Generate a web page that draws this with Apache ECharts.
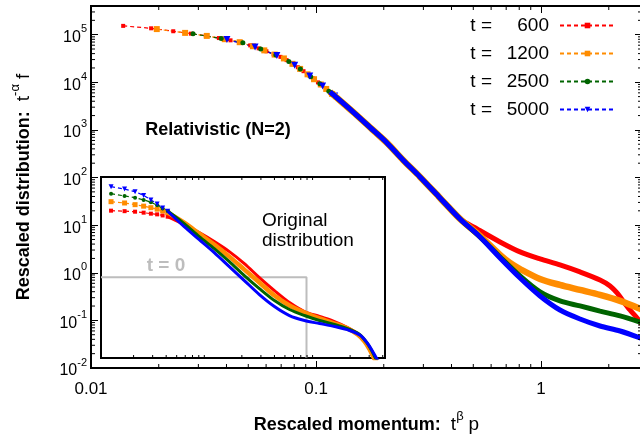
<!DOCTYPE html>
<html><head><meta charset="utf-8">
<script src="https://cdn.jsdelivr.net/npm/echarts@6/dist/echarts.min.js"></script>
<style>html,body{margin:0;padding:0;background:#fff}#c{width:640px;height:441px}</style>
</head><body><div id="c"></div>
<script>
// ---------- data ----------
const seriesNames = ['600', '1200', '2500', '5000'];
const xTickValues = [0.01, 0.1, 1];
const xTickLabels = ['0.01', '0.1', '1'];
const yTickExponents = [-2, -1, 0, 1, 2, 3, 4, 5];

// main plot: sparse (dashed + markers) part
const mainRed = [[0.0139,153000],[0.0185,136000],[0.0232,118000],[0.0278,105000],[0.0324,94800],[0.037,84900],[0.0417,76000],[0.0463,68800],[0.051,59600],[0.0556,51600],[0.0602,44800],[0.0648,38900],[0.0695,34200],[0.074,29200],[0.079,23900],[0.083,20700],[0.088,17100],[0.093,14000],[0.097,12000],[0.102,9960],[0.106,8700],[0.111,7250],[0.116,6100]];
const mainOrange = [[0.0196,131000],[0.0262,109000],[0.0327,94200],[0.0393,80400],[0.0458,69500],[0.0524,57100],[0.0589,46800],[0.0655,38200],[0.072,31700],[0.0786,24400],[0.085,19100],[0.0917,14700],[0.098,11600],[0.105,9000],[0.111,7250],[0.118,5680]];
const mainGreen = [[0.0284,104000],[0.0379,83000],[0.0473,67500],[0.0568,49900],[0.0663,37200],[0.0757,27200],[0.0852,19000],[0.0947,13100],[0.104,9300],[0.114,6500]];
const mainBlue = [[0.0402,78700],[0.0536,55000],[0.067,36500],[0.0804,22800],[0.0938,13500],[0.107,8400],[0.121,5140]];
// main plot: dense collapsed part (shared) and tails
const mainCollapse = [[0.1154,6280],[0.124,4700],[0.146,2390],[0.1738,1130],[0.2068,533],[0.2436,234],[0.29,103],[0.3557,37.3],[0.4365,13.5]];
const tailRed = [[0.5195,8.32],[0.6574,4.44],[0.8067,2.74],[0.9899,1.95],[1.214,1.46],[1.49,1.04],[1.829,0.706],[2.026,0.529],[2.177,0.377],[2.314,0.256],[2.486,0.165],[2.672,0.112],[2.84,0.0762]];
const tailOrange = [[0.5357,5.93],[0.6574,2.37],[0.7282,1.61],[0.8067,1.2],[0.9899,0.741],[1.214,0.555],[1.49,0.436],[1.829,0.342],[2.245,0.256],[2.84,0.165]];
const tailGreen = [[0.5357,5.65],[0.6574,2.15],[0.8067,0.857],[0.9899,0.396],[1.214,0.256],[1.49,0.201],[1.829,0.157],[2.245,0.124],[2.84,0.0881]];
const tailBlue = [[0.5357,5.65],[0.6574,2.05],[0.8067,0.778],[0.9899,0.326],[1.214,0.165],[1.49,0.107],[1.829,0.0762],[2.245,0.0598],[2.84,0.0406]];

// inset: original distribution
const insetRed = [[0.01238,1360],[0.01651,1290],[0.02064,1220],[0.02477,1100],[0.0289,989],[0.033,918],[0.0371,817],[0.0413,719]];
const insetOrange = [[0.01238,3540],[0.01651,3080],[0.02064,2580],[0.02477,2200],[0.0289,1870],[0.033,1600],[0.0371,1330],[0.0413,1100]];
const insetGreen = [[0.01238,8300],[0.01651,6500],[0.02064,5420],[0.02477,4290],[0.0289,3360],[0.033,2440],[0.0371,1720],[0.0413,1320]];
const insetBlue = [[0.01238,17500],[0.01651,13500],[0.02064,10300],[0.02477,6920],[0.0289,4250],[0.033,2770],[0.0371,1830],[0.0413,1280]];
const insetRedDense = [[0.0413,719],[0.0587,308],[0.0808,131],[0.1112,50.5],[0.1532,17.4],[0.2109,4.86],[0.2904,1.1],[0.3999,0.275],[0.5504,0.0769],[0.7577,0.0296],[1.0435,0.0174],[1.437,0.0102],[1.896,0.0054],[2.346,0.00285],[2.667,0.00151],[2.967,0.000644],[3.231,0.000247],[3.444,0.00013]];
const insetOrangeDense = [[0.0413,1100],[0.0587,380],[0.0808,118],[0.1112,36.6],[0.1532,10.2],[0.2109,2.57],[0.2904,0.646],[0.3999,0.162],[0.5504,0.056],[0.7577,0.0266],[1.0435,0.0141],[1.437,0.00826],[1.896,0.00485],[2.346,0.00256],[2.724,0.00122],[3.03,0.000521],[3.3,0.000222],[3.518,0.00013]];
const insetGreenDense = [[0.0413,1320],[0.0587,342],[0.0808,85.9],[0.1112,24.0],[0.1532,6.01],[0.2109,1.36],[0.2904,0.341],[0.3999,0.0953],[0.5504,0.0366],[0.7577,0.0193],[1.0435,0.01135],[1.437,0.00743],[1.979,0.00437],[2.448,0.00256],[2.842,0.0011],[3.162,0.000468],[3.444,0.0002],[3.672,0.00013]];
const insetBlueDense = [[0.0413,1280],[0.0587,248],[0.0808,62.4],[0.1112,15.7],[0.1532,3.53],[0.2109,0.798],[0.2904,0.18],[0.3999,0.0504],[0.5504,0.0193],[0.7577,0.01135],[1.0435,0.00826],[1.437,0.006],[1.979,0.00393],[2.5,0.00231],[2.904,0.000986],[3.231,0.000421],[3.518,0.0002],[3.75,0.00013]];
const initialT0 = [[0.01,1.15],[0.791,1.15],[0.791,0.00021]];

// minor tick values
const mainMinorX = [0.02,0.03,0.04,0.05,0.06,0.07,0.08,0.09,0.2,0.3,0.4,0.5,0.6,0.7,0.8,0.9,2];
const insetMinorX = [0.02,0.03,0.04,0.05,0.06,0.07,0.08,0.09,0.2,0.3,0.4,0.5,0.6,0.7,0.8,0.9,2,3,4];
const mainMinorY = [];
yTickExponents.forEach(e => { for (let m = 2; m <= 9; m++) { const v = m * Math.pow(10, e); if (v < 4e5) mainMinorY.push(v); } });

// ---------- chart ----------
const FONT = '"Liberation Sans", Arial, Helvetica, sans-serif';
const C = { r: '#ff0000', o: '#ff8c00', g: '#006400', b: '#0000ff' };
const MX = [0.01, 2.81], MY = [0.01, 4e5];
const IX = [0.01, 4.2], IY = [2.1e-4, 4.9e4];

function isPow10(v) { const l = Math.log10(v); return Math.abs(l - Math.round(l)) < 1e-6 ? Math.round(l) : null; }
function xLabel(v) { const e = isPow10(v); if (e === null) return ''; const i = xTickValues.findIndex(t => Math.abs(Math.log10(t) - e) < 1e-6); return i >= 0 ? xTickLabels[i] : ''; }
function yLabel(v) { const e = isPow10(v); if (e === null || yTickExponents.indexOf(e) < 0) return ''; return '{b|10}{s|' + e + '}'; }

function tickX(yLo, yHi, len) {
  return function (params, api) {
    const v = api.value(0);
    const b = api.coord([v, yLo]), t = api.coord([v, yHi]);
    return { type: 'group', children: [
      { type: 'line', shape: { x1: b[0], y1: b[1], x2: b[0], y2: b[1] - len }, style: { stroke: '#000', lineWidth: 1 } },
      { type: 'line', shape: { x1: t[0], y1: t[1], x2: t[0], y2: t[1] + len }, style: { stroke: '#000', lineWidth: 1 } }
    ] };
  };
}
function tickY(xLo, xHi, len) {
  return function (params, api) {
    const v = api.value(1);
    const l = api.coord([xLo, v]), r = api.coord([xHi, v]);
    return { type: 'group', children: [
      { type: 'line', shape: { x1: l[0], y1: l[1], x2: l[0] + len, y2: l[1] }, style: { stroke: '#000', lineWidth: 1 } },
      { type: 'line', shape: { x1: r[0], y1: r[1], x2: r[0] - len, y2: r[1] }, style: { stroke: '#000', lineWidth: 1 } }
    ] };
  };
}

function sparse(name, data, color, symbol, size, rot, gi) {
  return { type: 'line', name: name, xAxisIndex: gi * 2, yAxisIndex: gi * 2, data: data,
    symbol: symbol, symbolSize: size, symbolRotate: rot, showSymbol: true,
    lineStyle: { color: color, width: 1.2, type: [4, 3] }, itemStyle: { color: color },
    emphasis: { disabled: true }, animation: false, z: 3 };
}
function dense(name, data, color, width, gi) {
  return { type: 'line', name: name, xAxisIndex: gi * 2, yAxisIndex: gi * 2, data: data,
    showSymbol: false, symbol: 'none', smooth: 0.3, lineStyle: { color: color, width: width },
    emphasis: { disabled: true }, animation: false, z: 4 };
}

const supRich = {
  b: { fontFamily: FONT, fontSize: 16, lineHeight: 22, color: '#000', verticalAlign: 'bottom' },
  s: { fontFamily: FONT, fontSize: 11, lineHeight: 12, color: '#000', verticalAlign: 'top' }
};
const nameRich = {
  b: { fontFamily: FONT, fontSize: 18, fontWeight: 'bold', lineHeight: 24, color: '#000', verticalAlign: 'bottom' },
  n: { fontFamily: FONT, fontSize: 19, lineHeight: 24, color: '#000', verticalAlign: 'bottom' },
  s: { fontFamily: FONT, fontSize: 13, lineHeight: 13, color: '#000', verticalAlign: 'top' }
};

const tickMain = { show: true, inside: true, length: 7, lineStyle: { color: '#000', width: 1 } };
const tickInset = { show: true, inside: true, length: 6, lineStyle: { color: '#000', width: 1 } };

const option = {
  backgroundColor: '#fff',
  animation: false,
  grid: [
    { left: 91, top: 6, width: 551, height: 362, show: true, borderColor: '#000', borderWidth: 2, backgroundColor: 'transparent', outerBoundsMode: 'none' },
    { left: 101, top: 177, width: 284, height: 181, show: true, borderColor: '#000', borderWidth: 2, backgroundColor: '#fff', z: 2, outerBoundsMode: 'none' }
  ],
  xAxis: [
    { gridIndex: 0, type: 'log', min: MX[0], max: MX[1], position: 'bottom', axisLine: { show: false }, axisTick: tickMain, splitLine: { show: false },
      axisLabel: { formatter: xLabel, fontFamily: FONT, fontSize: 17, color: '#000', margin: 13, showMinLabel: true, showMaxLabel: true },
      name: '{b|Rescaled momentum:}  {n|t}{s|β} {n|p}', nameLocation: 'middle', nameGap: 42,
      nameTextStyle: { fontFamily: FONT, fontSize: 18, color: '#000', rich: nameRich } },
    { gridIndex: 0, type: 'log', min: MX[0], max: MX[1], position: 'top', axisLine: { show: false }, axisTick: tickMain, axisLabel: { show: false }, splitLine: { show: false } },
    { gridIndex: 1, type: 'log', min: IX[0], max: IX[1], position: 'bottom', axisLine: { show: false }, axisTick: tickInset, axisLabel: { show: false }, splitLine: { show: false } },
    { gridIndex: 1, type: 'log', min: IX[0], max: IX[1], position: 'top', axisLine: { show: false }, axisTick: tickInset, axisLabel: { show: false }, splitLine: { show: false } }
  ],
  yAxis: [
    { gridIndex: 0, type: 'log', min: MY[0], max: MY[1], position: 'left', axisLine: { show: false }, axisTick: tickMain, splitLine: { show: false },
      axisLabel: { formatter: yLabel, margin: 4, rich: supRich, showMinLabel: true, showMaxLabel: true },
      name: '{b|Rescaled distribution:}  {n|t}{s|-α} {n|f}', nameLocation: 'middle', nameGap: 58,
      nameTextStyle: { fontFamily: FONT, fontSize: 18, color: '#000', rich: nameRich } },
    { gridIndex: 0, type: 'log', min: MY[0], max: MY[1], position: 'right', axisLine: { show: false }, axisTick: tickMain, axisLabel: { show: false }, splitLine: { show: false } },
    { gridIndex: 1, type: 'log', min: IY[0], max: IY[1], position: 'left', axisLine: { show: false }, axisTick: tickInset, axisLabel: { show: false }, splitLine: { show: false } },
    { gridIndex: 1, type: 'log', min: IY[0], max: IY[1], position: 'right', axisLine: { show: false }, axisTick: tickInset, axisLabel: { show: false }, splitLine: { show: false } }
  ],
  legend: {
    data: seriesNames, orient: 'vertical', right: 19, top: 11, align: 'right',
    itemWidth: 55, itemHeight: 7, itemGap: 9, selectedMode: false,
    formatter: n => '{a|t =}{b|' + n + '}{c|}',
    textStyle: { fontFamily: FONT, fontSize: 19, color: '#000',
      rich: { a: { fontFamily: FONT, fontSize: 19, lineHeight: 19, color: '#000' },
              b: { fontFamily: FONT, fontSize: 19, lineHeight: 19, color: '#000', width: 57, align: 'right' },
              c: { width: 6 } } }
  },
  graphic: [
    { type: 'text', x: 218, y: 130, z: 10, style: { text: 'Relativistic (N=2)', font: 'bold 18px ' + FONT, fill: '#000', align: 'center', verticalAlign: 'middle', textAlign: 'center', textVerticalAlign: 'middle' } },
    { type: 'text', x: 262, y: 211, z: 10, style: { text: 'Original\ndistribution', font: '19px ' + FONT, lineHeight: 20, fill: '#000', align: 'left', verticalAlign: 'top', textAlign: 'left', textVerticalAlign: 'top' } },
    { type: 'text', x: 166, y: 266, z: 10, style: { text: 't = 0', font: 'bold 19px ' + FONT, fill: '#bdbdbd', align: 'center', verticalAlign: 'middle', textAlign: 'center', textVerticalAlign: 'middle' } }
  ],
  series: [
    // minor ticks
    { type: 'custom', xAxisIndex: 0, yAxisIndex: 0, data: mainMinorX.map(v => [v, MY[0]]), renderItem: tickX(MY[0], MY[1], 4), silent: true, z: 6 },
    { type: 'custom', xAxisIndex: 0, yAxisIndex: 0, data: mainMinorY.map(v => [MX[0], v]), renderItem: tickY(MX[0], MX[1], 4), silent: true, z: 6 },
    { type: 'custom', xAxisIndex: 2, yAxisIndex: 2, data: insetMinorX.map(v => [v, IY[0]]), renderItem: tickX(IY[0], IY[1], 3), silent: true, z: 6 },
    // main plot
    sparse('600', mainRed, C.r, 'rect', 4, 0, 0),
    sparse('1200', mainOrange, C.o, 'rect', 6, 0, 0),
    sparse('2500', mainGreen, C.g, 'circle', 5, 0, 0),
    sparse('5000', mainBlue, C.b, 'triangle', 7, 180, 0),
    dense('d600', mainCollapse.concat(tailRed), C.r, 5, 0),
    dense('d1200', mainCollapse.concat(tailOrange), C.o, 6.5, 0),
    dense('d2500', mainCollapse.concat(tailGreen), C.g, 5, 0),
    dense('d5000', mainCollapse.concat(tailBlue), C.b, 5, 0),
    // inset
    { type: 'line', name: 't0', xAxisIndex: 2, yAxisIndex: 2, data: initialT0, showSymbol: false, symbol: 'none', lineStyle: { color: '#bdbdbd', width: 2 }, z: 3, animation: false },
    sparse('i600', insetRed, C.r, 'rect', 4, 0, 1),
    sparse('i1200', insetOrange, C.o, 'rect', 5, 0, 1),
    sparse('i2500', insetGreen, C.g, 'circle', 4, 0, 1),
    sparse('i5000', insetBlue, C.b, 'triangle', 5, 180, 1),
    dense('id600', insetRedDense, C.r, 3, 1),
    dense('id1200', insetOrangeDense, C.o, 4.5, 1),
    dense('id2500', insetGreenDense, C.g, 3, 1),
    dense('id5000', insetBlueDense, C.b, 3, 1)
  ]
};

const chart = echarts.init(document.getElementById('c'), null, { renderer: 'canvas' });
chart.setOption(option);
</script></body></html>
